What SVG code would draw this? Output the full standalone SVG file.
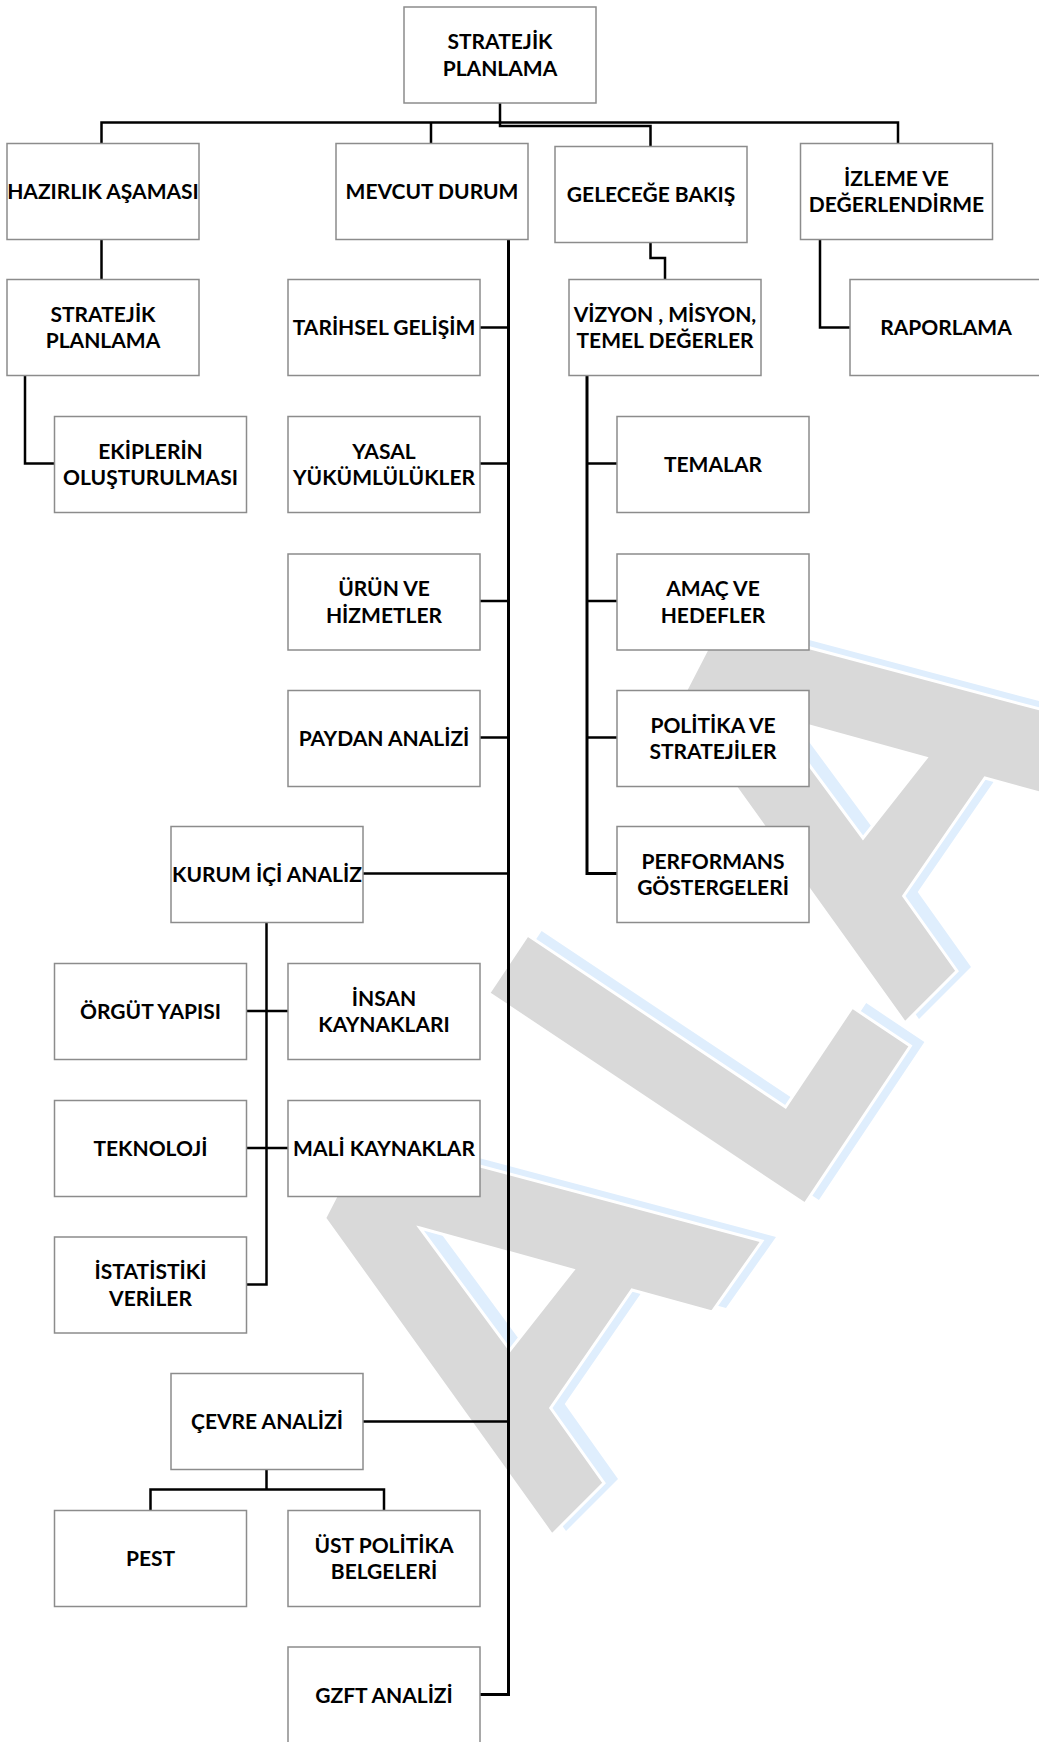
<svg xmlns="http://www.w3.org/2000/svg" xmlns:xlink="http://www.w3.org/1999/xlink" width="1039" height="1742" viewBox="0 0 1039 1742">
<style>
.box{fill:#fff;stroke:#8c8c8c;stroke-width:1.5}
.t{font-family:Lato,"Liberation Sans",sans-serif;font-weight:700;font-size:21px;text-anchor:middle;fill:#000}
.c{fill:none;stroke:#000;stroke-width:2.5}
.trunk{fill:none;stroke:#000;stroke-width:3}
.wmb{fill:#dfeefd}
.wmg{fill:#d9d9d9;stroke:#fff;stroke-width:3}
</style>
<defs>
<path id="letterA" d="M367,1136 L762,1241 L712,1312 L632,1290 L550.7,1408 L604,1483 L552,1535 L324.7,1218 Z M420,1228 L573,1270 L510,1350 Z" fill-rule="evenodd"/>
<path id="letterL" d="M488.7,993.2 L804.9,1204.1 L910.4,1046 L852.2,1007.1 L785.5,1107 L527.6,935 Z"/>
</defs>
<rect width="1039" height="1742" fill="#fff"/>
<g id="watermark">
<use xlink:href="#letterA" class="wmb" transform="translate(14,-4)"/>
<use xlink:href="#letterA" class="wmb" transform="translate(367,-516)"/>
<use xlink:href="#letterL" class="wmb" transform="translate(14,-4)"/>
<use xlink:href="#letterA" class="wmg"/>
<use xlink:href="#letterA" class="wmg" transform="translate(353,-512)"/>
<use xlink:href="#letterL" class="wmg"/>
</g>
<g id="connectors">
<path class="c" d="M500,103 V126 H650.5 V146.5"/>
<path class="c" d="M101.5,143.5 V122.5 H898 V143.5 M431,122.5 V143.5"/>
<path class="c" d="M101.5,239.5 V279.5"/>
<path class="c" d="M25,375.5 V463.5 H54.5"/>
<path class="trunk" d="M508.5,239.5 V1694.5 H480"/>
<path class="c" d="M480,327.5 H508.5 M480,463.5 H508.5 M480,601 H508.5 M480,737.5 H508.5 M363,873.5 H508.5 M363,1421.5 H508.5"/>
<path class="c" d="M650.5,242.5 V258 H665 V279.5"/>
<path class="trunk" d="M587,375.5 V873.5 H617"/>
<path class="c" d="M587,463.5 H617 M587,601 H617 M587,737.5 H617"/>
<path class="c" d="M820,239.5 V327.5 H850"/>
<path class="c" d="M266.5,922.5 V1284.5 H246.5 M246.5,1011 H288 M246.5,1148 H288"/>
<path class="c" d="M266.5,1469.5 V1489.5 M150.5,1510.5 V1489.5 H384 V1510.5"/>
</g>
<g id="n-top"><rect class="box" x="404" y="7" width="192" height="96"/><text class="t" x="500" y="49">STRATEJİK</text><text class="t" x="500" y="75.5">PLANLAMA</text></g>
<g id="n-hazirlik"><rect class="box" x="7" y="143.5" width="192" height="96"/><text class="t" x="103" y="199">HAZIRLIK AŞAMASI</text></g>
<g id="n-mevcut"><rect class="box" x="336" y="143.5" width="192" height="96"/><text class="t" x="432" y="199">MEVCUT DURUM</text></g>
<g id="n-gelecege"><rect class="box" x="555" y="146.5" width="192" height="96"/><text class="t" x="651" y="202">GELECEĞE BAKIŞ</text></g>
<g id="n-izleme"><rect class="box" x="800.5" y="143.5" width="192" height="96"/><text class="t" x="896.5" y="185.5">İZLEME VE</text><text class="t" x="896.5" y="212">DEĞERLENDİRME</text></g>
<g id="n-stratejik2"><rect class="box" x="7" y="279.5" width="192" height="96"/><text class="t" x="103" y="321.5">STRATEJİK</text><text class="t" x="103" y="348">PLANLAMA</text></g>
<g id="n-tarihsel"><rect class="box" x="288" y="279.5" width="192" height="96"/><text class="t" x="384" y="335">TARİHSEL GELİŞİM</text></g>
<g id="n-vizyon"><rect class="box" x="569" y="279.5" width="192" height="96"/><text class="t" x="665" y="321.5">VİZYON , MİSYON,</text><text class="t" x="665" y="348">TEMEL DEĞERLER</text></g>
<g id="n-raporlama"><rect class="box" x="850" y="279.5" width="192" height="96"/><text class="t" x="946" y="335">RAPORLAMA</text></g>
<g id="n-ekiplerin"><rect class="box" x="54.5" y="416.5" width="192" height="96"/><text class="t" x="150.5" y="458.5">EKİPLERİN</text><text class="t" x="150.5" y="485">OLUŞTURULMASI</text></g>
<g id="n-yasal"><rect class="box" x="288" y="416.5" width="192" height="96"/><text class="t" x="384" y="458.5">YASAL</text><text class="t" x="384" y="485">YÜKÜMLÜLÜKLER</text></g>
<g id="n-temalar"><rect class="box" x="617" y="416.5" width="192" height="96"/><text class="t" x="713" y="472">TEMALAR</text></g>
<g id="n-urun"><rect class="box" x="288" y="554" width="192" height="96"/><text class="t" x="384" y="596">ÜRÜN VE</text><text class="t" x="384" y="622.5">HİZMETLER</text></g>
<g id="n-amac"><rect class="box" x="617" y="554" width="192" height="96"/><text class="t" x="713" y="596">AMAÇ VE</text><text class="t" x="713" y="622.5">HEDEFLER</text></g>
<g id="n-paydan"><rect class="box" x="288" y="690.5" width="192" height="96"/><text class="t" x="384" y="746">PAYDAN ANALİZİ</text></g>
<g id="n-politika"><rect class="box" x="617" y="690.5" width="192" height="96"/><text class="t" x="713" y="732.5">POLİTİKA VE</text><text class="t" x="713" y="759">STRATEJİLER</text></g>
<g id="n-kurum"><rect class="box" x="171" y="826.5" width="192" height="96"/><text class="t" x="267" y="882">KURUM İÇİ ANALİZ</text></g>
<g id="n-performans"><rect class="box" x="617" y="826.5" width="192" height="96"/><text class="t" x="713" y="868.5">PERFORMANS</text><text class="t" x="713" y="895">GÖSTERGELERİ</text></g>
<g id="n-orgut"><rect class="box" x="54.5" y="963.5" width="192" height="96"/><text class="t" x="150.5" y="1019">ÖRGÜT YAPISI</text></g>
<g id="n-insan"><rect class="box" x="288" y="963.5" width="192" height="96"/><text class="t" x="384" y="1005.5">İNSAN</text><text class="t" x="384" y="1032">KAYNAKLARI</text></g>
<g id="n-teknoloji"><rect class="box" x="54.5" y="1100.5" width="192" height="96"/><text class="t" x="150.5" y="1156">TEKNOLOJİ</text></g>
<g id="n-mali"><rect class="box" x="288" y="1100.5" width="192" height="96"/><text class="t" x="384" y="1156">MALİ KAYNAKLAR</text></g>
<g id="n-istatistiki"><rect class="box" x="54.5" y="1237" width="192" height="96"/><text class="t" x="150.5" y="1279">İSTATİSTİKİ</text><text class="t" x="150.5" y="1305.5">VERİLER</text></g>
<g id="n-cevre"><rect class="box" x="171" y="1373.5" width="192" height="96"/><text class="t" x="267" y="1429">ÇEVRE ANALİZİ</text></g>
<g id="n-pest"><rect class="box" x="54.5" y="1510.5" width="192" height="96"/><text class="t" x="150.5" y="1566">PEST</text></g>
<g id="n-ust"><rect class="box" x="288" y="1510.5" width="192" height="96"/><text class="t" x="384" y="1552.5">ÜST POLİTİKA</text><text class="t" x="384" y="1579">BELGELERİ</text></g>
<g id="n-gzft"><rect class="box" x="288" y="1647" width="192" height="96"/><text class="t" x="384" y="1702.5">GZFT ANALİZİ</text></g>
</svg>
